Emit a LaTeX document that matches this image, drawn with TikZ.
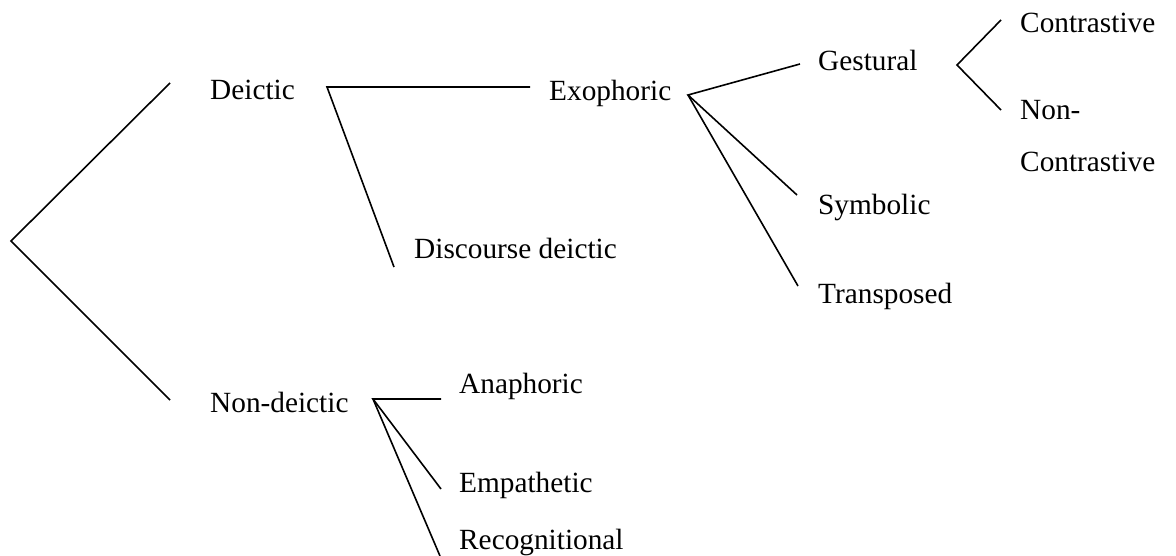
\documentclass[tikz,border=0pt]{standalone}
\usepackage{fontspec}
\setmainfont{Liberation Serif}
\begin{document}
\begin{tikzpicture}[x=1pt,y=-1pt,
  lbl/.style={anchor=base west,inner sep=0pt,font=\fontsize{29.3}{35}\selectfont},
  br/.style={line width=1.6pt,line join=miter}]
\useasboundingbox[fill=white] (0,0) rectangle (1176,556);
% labels
\node[lbl] (deictic) at (210,100) {Deictic};
\node[lbl] (nondeictic) at (210,412) {Non-deictic};
\node[lbl] (exophoric) at (549,101) {Exophoric};
\node[lbl] (discourse) at (414,259) {Discourse deictic};
\node[lbl] (gestural) at (818,71) {Gestural};
\node[lbl] (symbolic) at (818,215) {Symbolic};
\node[lbl] (transposed) at (818,303) {Transposed};
\node[lbl] (contrastive) at (1020,33) {Contrastive};
\node[lbl] (noncon1) at (1020,120) {Non-};
\node[lbl] (noncon2) at (1020,172) {Contrastive};
\node[lbl] (anaphoric) at (459,393) {Anaphoric};
\node[lbl] (empathetic) at (459,492) {Empathetic};
\node[lbl] (recognitional) at (459,549) {Recognitional};
% branch coordinates
\coordinate (root) at (11,241);
\coordinate (rootT) at (170,83);
\coordinate (rootB) at (170,400);
\coordinate (dV) at (327,87);
\coordinate (dE) at (530,87);
\coordinate (dD) at (394,267);
\coordinate (eV) at (688,95);
\coordinate (eG) at (800,64);
\coordinate (eS) at (797,195);
\coordinate (eT) at (798,286);
\coordinate (gV) at (957,65);
\coordinate (gC) at (1001,20);
\coordinate (gN) at (1001,110);
\coordinate (nV) at (373,399);
\coordinate (nA) at (441,399);
\coordinate (nE) at (441,489);
\coordinate (nR) at (440,556);
% branches
\draw[br] (rootT) -- (root) -- (rootB);
\draw[br] (dE) -- (dV) -- (dD);
\draw[br] (eG) -- (eV) -- (eS);
\draw[br] (eV) -- (eT);
\draw[br] (gC) -- (gV) -- (gN);
\draw[br] (nA) -- (nV) -- (nE);
\draw[br] (nV) -- (nR);
\end{tikzpicture}
\end{document}
